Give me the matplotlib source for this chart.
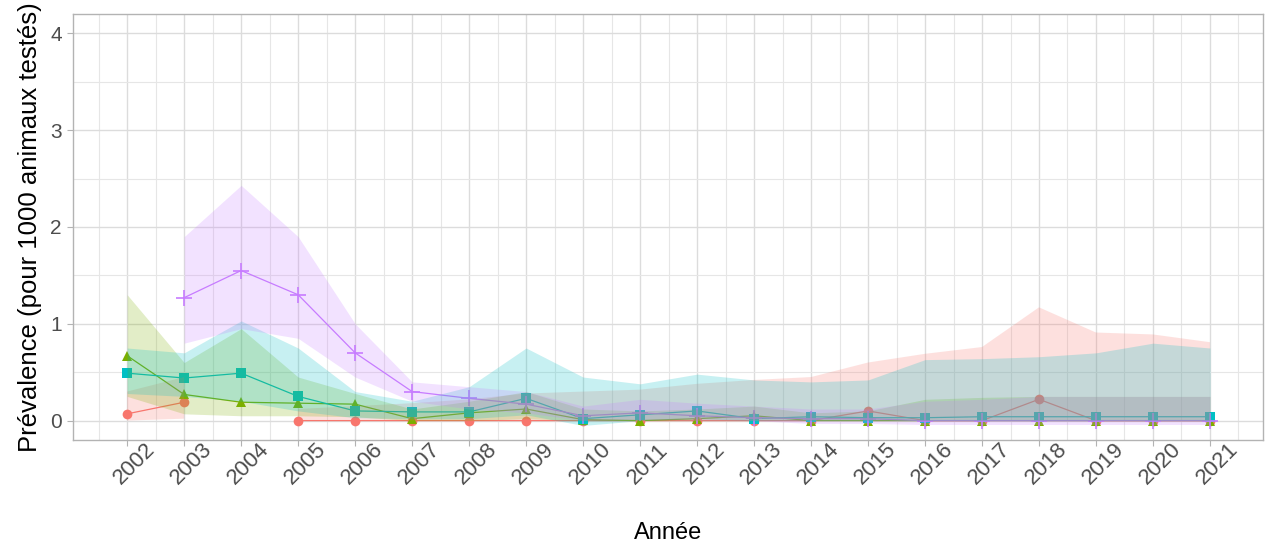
"""Prévalence annuelle (pour 1000 animaux testés) par groupe, avec IC."""

import matplotlib.pyplot as plt
import numpy as np
from matplotlib.ticker import MultipleLocator

nan = np.nan
annees = list(range(2002, 2022))

# groupe 1 : cercles rouges
prev_rouge = [0.07, 0.19, nan, 0, 0, 0, 0, 0, 0, 0, 0, 0, 0, 0.10, 0, 0, 0.22, 0, 0, 0]
bas_rouge = [0.0, 0.02, nan, 0, 0, 0, 0, 0, 0, 0, 0, 0, 0, 0, 0, 0, 0, 0, 0, 0]
haut_rouge = [0.30, 0.45, nan, 0.12, 0.15, 0.18, 0.22, 0.28, 0.30, 0.32, 0.38, 0.42,
              0.45, 0.60, 0.69, 0.76, 1.17, 0.91, 0.89, 0.81]

# groupe 2 : triangles verts
prev_vert = [0.67, 0.27, 0.19, 0.18, 0.17, 0.02, 0.08, 0.12, 0.01, 0.0, 0.02, 0.05,
             0, 0, 0, 0, 0, 0, 0, 0]
bas_vert = [0.25, 0.07, 0.05, 0.05, 0.04, 0, 0, 0.02, 0, 0, 0, 0, 0, 0, 0, 0, 0, 0, 0, 0]
haut_vert = [1.30, 0.60, 0.95, 0.45, 0.28, 0.12, 0.20, 0.30, 0.12, 0.10, 0.12, 0.15,
             0.08, 0.10, 0.22, 0.24, 0.25, 0.25, 0.25, 0.25]

# groupe 3 : carrés turquoise
prev_turq = [0.49, 0.44, 0.49, 0.25, 0.10, 0.09, 0.09, 0.23, 0.02, 0.06, 0.10, 0.02,
             0.04, 0.03, 0.03, 0.04, 0.04, 0.04, 0.04, 0.04]
bas_turq = [0.28, 0.25, 0.20, 0.10, 0.03, 0.02, 0.02, 0.06, -0.05, 0, 0.02, 0,
            0, 0, 0, 0, 0, 0, 0, 0]
haut_turq = [0.75, 0.70, 1.03, 0.75, 0.30, 0.20, 0.35, 0.75, 0.45, 0.38, 0.48, 0.42,
             0.40, 0.42, 0.63, 0.64, 0.66, 0.70, 0.80, 0.75]

# groupe 4 : croix violettes
prev_viol = [nan, 1.27, 1.55, 1.30, 0.70, 0.30, 0.23, 0.17, 0.05, 0.08, 0.05, 0.03,
             0.02, 0.02, 0, 0, 0, 0, 0, 0]
bas_viol = [nan, 0.80, 0.95, 0.85, 0.45, 0.20, 0.12, 0.08, 0, 0.01, 0, 0,
            -0.03, -0.03, -0.04, -0.04, -0.04, -0.04, -0.04, -0.04]
haut_viol = [nan, 1.90, 2.43, 1.90, 1.00, 0.40, 0.35, 0.30, 0.15, 0.22, 0.18, 0.15,
             0.12, 0.12, 0.20, 0.22, 0.25, 0.25, 0.25, 0.25]

groupes = [
    (prev_rouge, bas_rouge, haut_rouge, "#F8766D", "o", 7),
    (prev_vert, bas_vert, haut_vert, "#7CAE00", "^", 7),
    (prev_turq, bas_turq, haut_turq, "#00BFC4", "s", 7),
    (prev_viol, bas_viol, haut_viol, "#C77CFF", "+", 11),
]

plt.rcParams["font.family"] = ["Liberation Sans", "DejaVu Sans"]

fig = plt.figure(figsize=(12.66, 5.51), dpi=100)
ax = fig.add_axes([0.0577, 0.2015, 0.9399, 0.7731])

x = np.array(annees)
# points et lignes d'abord, les rubans (IC) par-dessus, comme dans ggplot
for prev, bas, haut, col, mk, ms in groupes:
    ax.plot(x, np.array(prev, float), color=col, lw=0.9, zorder=3)
for prev, bas, haut, col, mk, ms in groupes:
    ax.plot(x, np.array(prev, float), ls="none", marker=mk, ms=ms, color=col,
            mew=1.2 if mk == "+" else 0, zorder=4)
for prev, bas, haut, col, *_ in groupes:
    ax.fill_between(x, np.array(bas, float), np.array(haut, float), color=col,
                    alpha=0.22, lw=0, zorder=5)

ax.set_xlim(2001.05, 2021.93)
ax.set_ylim(-0.2, 4.2)
ax.set_xticks(annees)
ax.set_xticklabels([str(a) for a in annees], rotation=45, ha="center", va="top",
                   rotation_mode="anchor")
ax.xaxis.set_minor_locator(MultipleLocator(0.5))
ax.set_yticks([0, 1, 2, 3, 4])
ax.yaxis.set_minor_locator(MultipleLocator(0.5))

ax.grid(which="major", color="#DCDCDC", lw=1.0, zorder=0)
ax.grid(which="minor", color="#E6E6E6", lw=0.8, zorder=0)
ax.set_axisbelow(True)
for sp in ax.spines.values():
    sp.set_color("#B3B3B3")
    sp.set_linewidth(1.0)
ax.tick_params(which="major", length=4, color="#B3B3B3", labelsize=15,
               labelcolor="#4D4D4D", pad=4)
ax.tick_params(which="minor", length=0)
ax.tick_params(axis="x", labelsize=16, pad=8)

ax.set_xlabel("Année", fontsize=17, labelpad=24)
ax.set_ylabel("Prévalence (pour 1000 animaux testés)", fontsize=18.5, labelpad=6)

fig.savefig("out.png", dpi=100)
